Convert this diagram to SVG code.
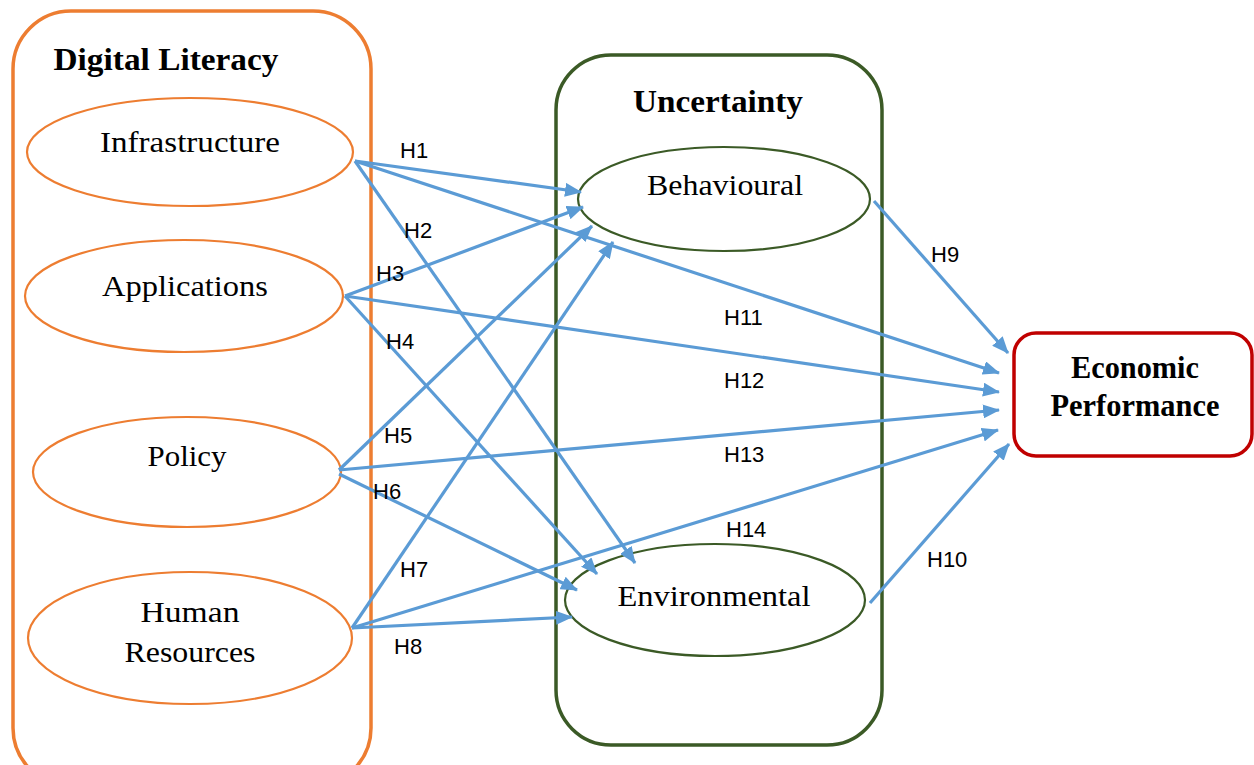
<svg xmlns="http://www.w3.org/2000/svg" width="1254" height="765" viewBox="0 0 1254 765">
<style>
.frame{fill:none;stroke-width:3.5}
.dl{stroke:#ED7D31}
.un{stroke:#3B5A26}
.ep{stroke:#C00000}
.ell-o{fill:#fff;stroke:#ED7D31;stroke-width:2.2}
.ell-g{fill:#fff;stroke:#3B5A26;stroke-width:2.2}
.title{font-family:"Liberation Serif",serif;font-weight:bold;font-size:31px;fill:#000;text-anchor:middle}
.node{font-family:"Liberation Serif",serif;font-size:29px;fill:#000;text-anchor:middle}
.lbl{font-family:"Liberation Sans",sans-serif;font-size:22px;fill:#000}
.arr{stroke:#5B9BD5;stroke-width:3.2;fill:none;marker-end:url(#ah)}
</style>
<defs>
<marker id="ah" markerUnits="userSpaceOnUse" markerWidth="18" markerHeight="14" refX="16" refY="7" orient="auto">
<path d="M0,0 L17,7 L0,14 Z" fill="#5B9BD5"/>
</marker>
</defs>
<rect id="bg" x="0" y="0" width="1254" height="765" fill="#fff"/>
<g id="digital-literacy">
<rect class="frame dl" x="13" y="11" width="358" height="775" rx="58"/>
<text class="title" x="166" y="70" textLength="225" lengthAdjust="spacingAndGlyphs">Digital Literacy</text>
</g>
<g id="uncertainty">
<rect class="frame un" x="556" y="55" width="326" height="690" rx="55"/>
<text class="title" x="718" y="112" textLength="170" lengthAdjust="spacingAndGlyphs">Uncertainty</text>
</g>
<g id="economic-performance">
<rect class="frame ep" x="1014" y="333" width="238" height="123" rx="22"/>
<text class="title" x="1135" y="378" textLength="128" lengthAdjust="spacingAndGlyphs">Economic</text>
<text class="title" x="1135" y="416" textLength="169" lengthAdjust="spacingAndGlyphs">Performance</text>
</g>
<g id="infrastructure">
<ellipse class="ell-o" cx="190" cy="152" rx="163" ry="54"/>
<text class="node" x="190" y="152" textLength="180" lengthAdjust="spacingAndGlyphs">Infrastructure</text>
</g>
<g id="applications">
<ellipse class="ell-o" cx="184" cy="296" rx="159" ry="56"/>
<text class="node" x="185" y="296" textLength="166" lengthAdjust="spacingAndGlyphs">Applications</text>
</g>
<g id="policy">
<ellipse class="ell-o" cx="187" cy="472" rx="154" ry="55"/>
<text class="node" x="187" y="466" textLength="79" lengthAdjust="spacingAndGlyphs">Policy</text>
</g>
<g id="human-resources">
<ellipse class="ell-o" cx="190" cy="638" rx="162" ry="66"/>
<text class="node" x="190" y="622" textLength="99" lengthAdjust="spacingAndGlyphs">Human</text>
<text class="node" x="190" y="662" textLength="131" lengthAdjust="spacingAndGlyphs">Resources</text>
</g>
<g id="behavioural">
<ellipse class="ell-g" cx="724" cy="199" rx="146" ry="52"/>
<text class="node" x="725" y="195" textLength="156" lengthAdjust="spacingAndGlyphs">Behavioural</text>
</g>
<g id="environmental">
<ellipse class="ell-g" cx="715" cy="600" rx="150" ry="56"/>
<text class="node" x="714" y="606" textLength="193" lengthAdjust="spacingAndGlyphs">Environmental</text>
</g>
<g id="connectors">
<line class="arr" x1="355" y1="161" x2="581" y2="192"/>
<line class="arr" x1="355" y1="161" x2="635" y2="563"/>
<line class="arr" x1="345" y1="296" x2="583" y2="207"/>
<line class="arr" x1="345" y1="296" x2="597" y2="574"/>
<line class="arr" x1="339" y1="470" x2="592" y2="226"/>
<line class="arr" x1="339" y1="474" x2="577" y2="590"/>
<line class="arr" x1="352" y1="628" x2="613" y2="242"/>
<line class="arr" x1="352" y1="628" x2="572" y2="617"/>
<line class="arr" x1="874" y1="201" x2="1008" y2="353"/>
<line class="arr" x1="870" y1="603" x2="1009" y2="444"/>
<line class="arr" x1="355" y1="161" x2="999" y2="373"/>
<line class="arr" x1="345" y1="296" x2="999" y2="392"/>
<line class="arr" x1="339" y1="470" x2="999" y2="410"/>
<line class="arr" x1="352" y1="628" x2="998" y2="430"/>
</g>
<g id="labels">
<text class="lbl" x="400" y="158">H1</text>
<text class="lbl" x="404" y="238">H2</text>
<text class="lbl" x="376" y="281">H3</text>
<text class="lbl" x="386" y="349">H4</text>
<text class="lbl" x="384" y="443">H5</text>
<text class="lbl" x="373" y="499">H6</text>
<text class="lbl" x="400" y="577">H7</text>
<text class="lbl" x="394" y="654">H8</text>
<text class="lbl" x="931" y="262">H9</text>
<text class="lbl" x="927" y="567">H10</text>
<text class="lbl" x="724" y="325">H11</text>
<text class="lbl" x="724" y="388">H12</text>
<text class="lbl" x="724" y="462">H13</text>
<text class="lbl" x="726" y="537">H14</text>
</g>
</svg>
